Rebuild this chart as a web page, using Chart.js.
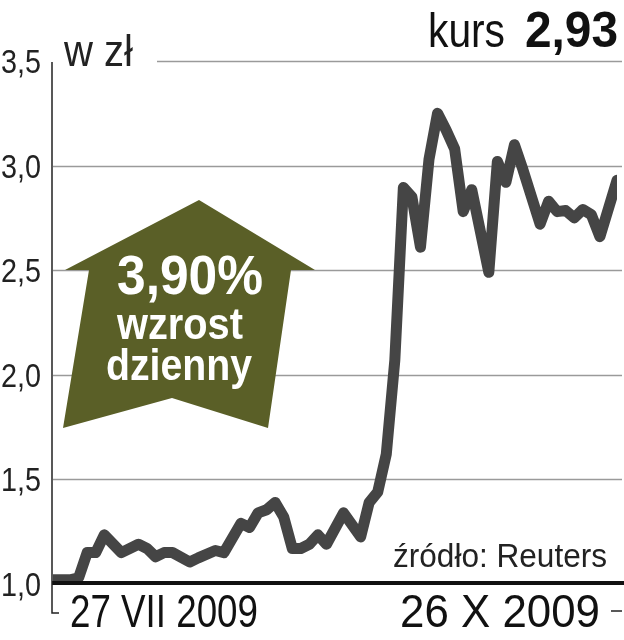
<!DOCTYPE html>
<html>
<head>
<meta charset="utf-8">
<script src="https://cdn.jsdelivr.net/npm/chart.js@4.4.1/dist/chart.umd.min.js"></script>
<style>
  html, body { margin: 0; padding: 0; background: #fff; }
  #chart { display: block; }
</style>
</head>
<body>
<canvas id="chart" width="624" height="640"></canvas>
<script>
// Trading day index (27 VII 2009 = 0) and closing price in zł
const days = [0, 2, 3, 4, 5, 6, 8, 10, 11, 12, 13, 14, 16, 17, 19, 20, 22, 23, 24, 25, 26, 27, 28, 29, 30, 31, 32, 34, 36, 37, 38, 39, 40, 41, 42, 43, 44, 45, 46, 47, 48, 49, 51, 52, 53, 54, 55, 57, 58, 59, 60, 61, 62, 63, 64, 66];
const prices = [1.02, 1.02, 1.03, 1.15, 1.15, 1.235, 1.15, 1.19, 1.17, 1.13, 1.15, 1.15, 1.105, 1.125, 1.16, 1.15, 1.29, 1.27, 1.34, 1.355, 1.39, 1.32, 1.17, 1.17, 1.19, 1.235, 1.19, 1.34, 1.225, 1.39, 1.44, 1.62, 2.07, 2.895, 2.85, 2.61, 3.03, 3.25, 3.17, 3.08, 2.78, 2.885, 2.49, 3.02, 2.92, 3.10, 2.98, 2.72, 2.83, 2.78, 2.785, 2.75, 2.79, 2.765, 2.66, 2.93];

const yTicks = [1.0, 1.5, 2.0, 2.5, 3.0, 3.5];
const dateLabels = ['27 VII 2009', '26 X 2009'];
const lastPrice = '2,93';
const dailyChange = '3,90%';

const NARROW = '"Liberation Sans Narrow", "Liberation Sans", Arial, sans-serif';
const BOLD = '"Liberation Sans", Arial, sans-serif';

// draw text squeezed/stretched to a given width, x = left edge, y = baseline
function fitText(ctx, text, x, y, w, font, color) {
  ctx.save();
  ctx.font = font;
  ctx.fillStyle = color;
  ctx.textAlign = 'left';
  ctx.textBaseline = 'alphabetic';
  const m = ctx.measureText(text).width;
  ctx.translate(x, y);
  ctx.scale(w / m, 1);
  ctx.fillText(text, 0, 0);
  ctx.restore();
}

const decor = {
  id: 'decor',
  beforeDatasetsDraw(chart) {
    const ctx = chart.ctx;
    const y = chart.scales.y;
    const area = chart.chartArea;

    // grid lines
    ctx.save();
    ctx.strokeStyle = '#9a9a9a';
    ctx.lineWidth = 1.5;
    yTicks.forEach(v => {
      if (v === 1.0) return;
      const py = Math.round(y.getPixelForValue(v)) + 0.5;
      ctx.beginPath();
      ctx.moveTo(v === 3.5 ? 157 : area.left, py);
      ctx.lineTo(622, py);
      ctx.stroke();
    });
    ctx.restore();

    // green arrow
    ctx.save();
    ctx.fillStyle = '#5a5f27';
    ctx.beginPath();
    ctx.moveTo(199, 200);
    ctx.lineTo(315, 270);
    ctx.lineTo(291, 270);
    ctx.lineTo(268, 428);
    ctx.lineTo(172, 398);
    ctx.lineTo(63, 428);
    ctx.lineTo(89, 270);
    ctx.lineTo(65, 270);
    ctx.closePath();
    ctx.fill();
    ctx.restore();

    fitText(ctx, dailyChange, 117, 294, 146, 'bold 56px ' + BOLD, '#fff');
    fitText(ctx, 'wzrost', 117, 339, 126, 'bold 44px ' + BOLD, '#fff');
    fitText(ctx, 'dzienny', 106, 380, 146, 'bold 44px ' + BOLD, '#fff');
  },
  afterDatasetsDraw(chart) {
    const ctx = chart.ctx;
    const y = chart.scales.y;
    const area = chart.chartArea;
    const base = y.getPixelForValue(1.0);

    ctx.save();
    // baseline
    ctx.strokeStyle = '#111';
    ctx.lineWidth = 4;
    ctx.beginPath();
    ctx.moveTo(area.left - 1, base - 1);
    ctx.lineTo(624, base - 1);
    ctx.stroke();

    // left axis with foot
    ctx.lineWidth = 1.5;
    ctx.strokeStyle = '#222';
    ctx.beginPath();
    ctx.moveTo(52, y.getPixelForValue(3.5) + 1);
    ctx.lineTo(52, 613);
    ctx.lineTo(59, 613);
    ctx.stroke();

    // right end tick
    ctx.beginPath();
    ctx.moveTo(611, 611);
    ctx.lineTo(622, 611);
    ctx.stroke();
    ctx.restore();

    // y labels
    yTicks.forEach(v => {
      const txt = v.toFixed(1).replace('.', ',');
      const py = y.getPixelForValue(v);
      fitText(ctx, txt, 1, py + 12, 40, '33px ' + NARROW, '#222');
    });

    fitText(ctx, 'w zł', 64, 66, 69, '44px ' + NARROW, '#222');
    fitText(ctx, 'kurs', 428, 47, 77, '48px ' + BOLD, '#111');
    fitText(ctx, lastPrice, 525, 47, 93, 'bold 50px ' + BOLD, '#111');

    fitText(ctx, 'źródło: Reuters', 393, 567, 214, '34px ' + NARROW, '#222');

    fitText(ctx, dateLabels[0], 70, 627, 188, '46px ' + NARROW, '#111');
    fitText(ctx, dateLabels[1], 400, 627, 200, '46px ' + NARROW, '#111');
  }
};

new Chart(document.getElementById('chart'), {
  type: 'line',
  data: {
    datasets: [{
      data: days.map((d, i) => ({ x: d, y: prices[i] })),
      borderColor: '#454545',
      borderWidth: 11,
      borderJoinStyle: 'round',
      borderCapStyle: 'round',
      pointRadius: 0,
      tension: 0,
      fill: false
    }]
  },
  options: {
    responsive: false,
    animation: false,
    devicePixelRatio: 1,
    layout: { padding: { left: 53, right: 7, top: 61, bottom: 56 } },
    plugins: { legend: { display: false }, tooltip: { enabled: false } },
    scales: {
      x: { type: 'linear', min: 0, max: 66, display: false },
      y: { min: 1.0, max: 3.5, display: false }
    }
  },
  plugins: [decor]
});
</script>
</body>
</html>
